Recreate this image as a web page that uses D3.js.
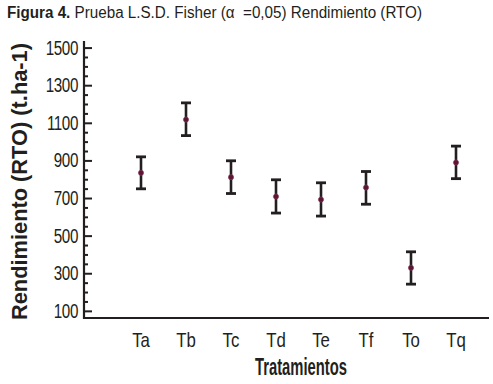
<!DOCTYPE html>
<html><head><meta charset="utf-8">
<script src="https://cdn.jsdelivr.net/npm/d3@7"></script>
<style>
body{margin:0;background:#fff;}
svg{display:block;}
</style></head>
<body>
<svg id="c" width="493" height="384"></svg>
<script>
const categories = ["Ta","Tb","Tc","Td","Te","Tf","To","Tq"];
const means = [834, 1117, 811, 708, 692, 756, 329, 889];
const lower = [749, 1032, 724, 620, 604, 667, 242, 803];
const upper = [919, 1206, 898, 797, 781, 841, 414, 976];
const yTicks = [100, 300, 500, 700, 900, 1100, 1300, 1500];

const svg = d3.select("#c");
const font = "'Liberation Sans',Arial,sans-serif";
const ink = "#231f20";

const y = d3.scaleLinear().domain([62, 1535]).range([318, 41]);
const x = d3.scalePoint().domain(categories).range([141, 456]);
const axisX0 = 84, axisX1 = 489;

// title
const t = svg.append("text").attr("x", 7).attr("y", 18)
  .attr("font-family", font).attr("font-size", 16).attr("fill", ink)
  .attr("textLength", 415).attr("lengthAdjust", "spacingAndGlyphs");
t.append("tspan").attr("font-weight", "bold").text("Figura 4.");
t.append("tspan").text(" Prueba L.S.D. Fisher (\u03b1 \u00a0=0,05) Rendimiento (RTO)");

// y axis
const yAxis = d3.axisRight(y).tickValues(d3.range(100, 1501, 50)).tickSize(4).tickFormat("");
const gy = svg.append("g").attr("transform", `translate(${axisX0},0)`).call(yAxis);
gy.select(".domain").remove();
gy.selectAll(".tick line").attr("stroke", ink).attr("stroke-width", 2)
  .attr("x2", d => yTicks.includes(d) ? 8 : 4);
svg.append("line").attr("x1", axisX0).attr("x2", axisX0).attr("y1", y.range()[1]).attr("y2", y.range()[0] + 1)
  .attr("stroke", ink).attr("stroke-width", 2.2);
svg.append("g").selectAll("text").data(yTicks).join("text")
  .attr("transform", d => `translate(78,${y(d) + 7}) scale(0.78,1)`).attr("text-anchor", "end")
  .attr("font-family", font).attr("font-size", 19.5).attr("letter-spacing", -0.5)
  .attr("fill", ink).text(d => d);

// x axis
svg.append("line").attr("x1", axisX0 - 1).attr("x2", axisX1).attr("y1", y.range()[0]).attr("y2", y.range()[0])
  .attr("stroke", ink).attr("stroke-width", 2.2);
svg.append("g").selectAll("text").data(categories).join("text")
  .attr("transform", d => `translate(${x(d)},347) scale(0.82,1)`).attr("text-anchor", "middle")
  .attr("font-family", font).attr("font-size", 20.5)
  .attr("fill", ink).text(d => d);

// axis titles
svg.append("text").attr("x", 255).attr("y", 375)
  .attr("font-family", font).attr("font-weight", "bold").attr("font-size", 23)
  .attr("textLength", 92).attr("lengthAdjust", "spacingAndGlyphs")
  .attr("fill", ink).text("Tratamientos");
svg.append("text").attr("transform", "translate(27,181.5) rotate(-90)").attr("text-anchor", "middle")
  .attr("font-family", font).attr("font-weight", "bold").attr("font-size", 21.5)
  .attr("textLength", 277).attr("lengthAdjust", "spacingAndGlyphs")
  .attr("fill", ink).text("Rendimiento (RTO) (t.ha-1)");

// error bars
const data = categories.map((c, i) => ({c, m: means[i], lo: lower[i], hi: upper[i]}));
const g = svg.append("g");
g.selectAll("line.v").data(data).join("line").attr("class", "v")
  .attr("x1", d => x(d.c)).attr("x2", d => x(d.c)).attr("y1", d => y(d.hi)).attr("y2", d => y(d.lo))
  .attr("stroke", ink).attr("stroke-width", 2.6);
["hi", "lo"].forEach(k => {
  g.selectAll("line." + k).data(data).join("line").attr("class", k)
    .attr("x1", d => x(d.c) - 5).attr("x2", d => x(d.c) + 5).attr("y1", d => y(d[k])).attr("y2", d => y(d[k]))
    .attr("stroke", ink).attr("stroke-width", 2.8);
});
g.selectAll("circle").data(data).join("circle")
  .attr("cx", d => x(d.c)).attr("cy", d => y(d.m)).attr("r", 2.6)
  .attr("fill", "#5c1535").attr("stroke", "#8a3a5c").attr("stroke-width", 0.6);
</script>
</body></html>
